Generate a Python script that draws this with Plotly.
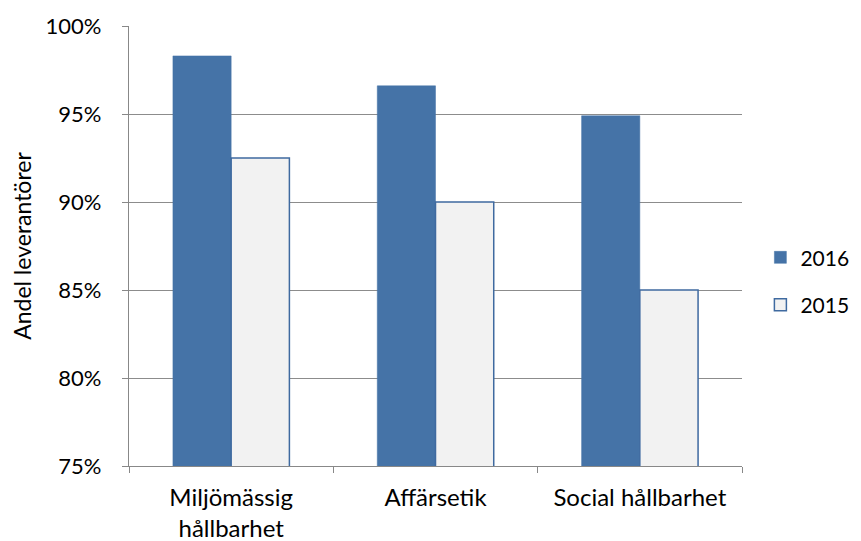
import plotly.graph_objects as go

categories = ["Miljömässig<br>hållbarhet", "Affärsetik", "Social hållbarhet"]
values_2016 = [98.3, 96.6, 94.9]
values_2015 = [92.5, 90.0, 85.0]
tick_vals = [75, 80, 85, 90, 95, 100]
tick_text = ["75%", "80%", "85%", "90%", "95%", "100%"]

FONT = "Lato"
fig = go.Figure()
fig.add_trace(go.Bar(
    x=categories, y=values_2016, name="2016",
    marker=dict(color="#4573A7", line=dict(color="#4573A7", width=0.5)),
    legendgroup="a",
))
fig.add_trace(go.Bar(
    x=categories, y=values_2015, name="2015",
    marker=dict(color="#F2F2F2", line=dict(color="#3F6AA0", width=1.5)),
    legendgroup="b",
))

# page body has an 8px margin, so the figure is sized to fit the viewport
fig.update_layout(
    width=853, height=533,
    margin=dict(l=121, r=119, t=18, b=75, autoexpand=False),
    paper_bgcolor="white", plot_bgcolor="white",
    barmode="group", bargap=0.43, bargroupgap=0,
    font=dict(family=FONT, size=22, color="black"),
    showlegend=True,
    legend=dict(x=1.03, y=0.42, xanchor="left", yanchor="middle",
                tracegroupgap=17, font=dict(size=21), itemwidth=30),
    xaxis=dict(
        showline=True, linecolor="#888888", linewidth=1.2,
        ticks="outside", tickson="boundaries", ticklen=6, tickcolor="#888888",
        showgrid=False, tickfont=dict(size=24), automargin=False,
        ticklabelstandoff=10,
    ),
    yaxis=dict(
        range=[75, 100], tickvals=tick_vals, ticktext=tick_text,
        showline=True, linecolor="#888888", linewidth=1.2,
        ticks="outside", ticklen=6, tickcolor="#888888",
        showgrid=True, gridcolor="#8c8c8c", gridwidth=1.2,
        zeroline=False, tickfont=dict(size=22), automargin=False,
        ticklabelstandoff=16,
        title=dict(text="Andel leverantörer", font=dict(size=23), standoff=16),
    ),
)

fig.write_html("out.html")
